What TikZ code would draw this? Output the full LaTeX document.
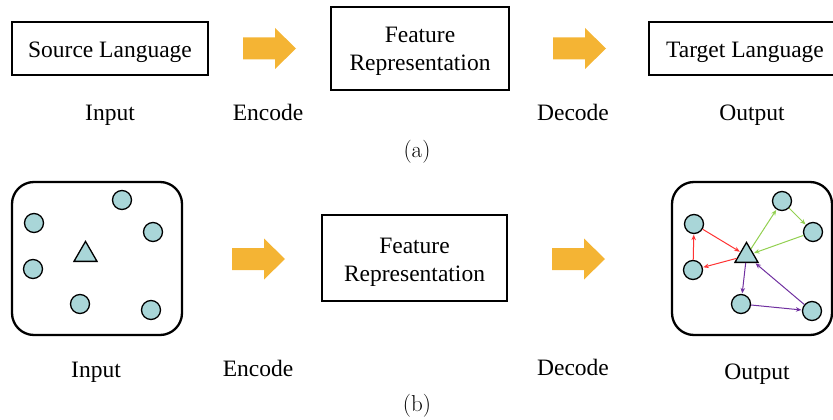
\documentclass[tikz,border=0pt]{standalone}
\usepackage{fontspec}
\newfontfamily\tnr{Liberation Serif}
\usetikzlibrary{shapes.geometric,arrows.meta}
\definecolor{fatorange}{HTML}{F4B434}
\definecolor{dotfill}{HTML}{A9D6D8}
\definecolor{edgered}{HTML}{FF3333}
\definecolor{edgegreen}{HTML}{92D050}
\definecolor{edgepurple}{HTML}{7030A0}
\tikzset{
	box/.style={draw, line width=1.2pt, inner sep=0pt},
	panel/.style={draw, line width=2.3pt, rounded corners=22pt, minimum width=#1, minimum height=153pt, inner sep=0pt},
	dot/.style={circle, draw, line width=1.3pt, fill=dotfill, minimum size=19pt, inner sep=0pt},
	tri/.style={regular polygon, regular polygon sides=3, draw, line width=1.3pt, fill=dotfill, minimum size=26.6pt, inner sep=0pt},
	link/.style={line width=1pt, -{Stealth[length=5.5pt,width=4.5pt]}, shorten >=0.5pt},
	word/.style={anchor=base, inner sep=0pt},
	caption/.style={anchor=base, inner sep=0pt, font=\normalfont\fontsize{23}{27}\selectfont}
}
\newcommand\fatarrow[1]{\fill[fatorange, shift={#1}] (0,-11) -- (32,-11) -- (32,-20.5) -- (53,0) -- (32,20.5) -- (32,11) -- (0,11) -- cycle;}
\begin{document}
\begin{tikzpicture}[x=1pt, y=-1pt, font=\tnr\fontsize{23.5}{27}\selectfont]
	\useasboundingbox (0,0) rectangle (833,420);
	\clip (0,0) rectangle (833,420);
	% (a)
	\node[box, minimum width=196pt, minimum height=53pt] (src) at (110,48.5) {};
	\node[word] (srct) at (110,58) {Source Language};
	\node[box, minimum width=178pt, minimum height=83pt] (feata) at (420,48.5) {};
	\node[word] (fa1) at (420,43) {Feature};
	\node[word] (fa2) at (420,70.5) {Representation};
	\node[box, minimum width=196pt, minimum height=53pt] (tgt) at (747,48.5) {};
	\node[word] (tgtt) at (745,58) {Target Language};
	\fatarrow{(243,48.5)}
	\fatarrow{(553,48.5)}
	\node[word] (ina) at (110,120) {Input};
	\node[word] (enca) at (268,120) {Encode};
	\node[word] (deca) at (573,120) {Decode};
	\node[word] (outa) at (752,121) {Output};
	\node[caption] (capa) at (417,157) {(a)};
	% (b)
	\node[panel=170pt] (left) at (97,258.5) {};
	\node[box, minimum width=185pt, minimum height=86pt] (featb) at (414.5,258) {};
	\node[word] (fb1) at (414.5,253) {Feature};
	\node[word] (fb2) at (414.5,281.5) {Representation};
	\node[panel=160pt] (right) at (752,258.5) {};
	\fatarrow{(232,259)}
	\fatarrow{(552,259)}
	\node[dot] (l1) at (122,200) {};
	\node[dot] (l2) at (34,223) {};
	\node[dot] (l3) at (153,232) {};
	\node[dot] (l4) at (33,269) {};
	\node[dot] (l5) at (80,304) {};
	\node[dot] (l6) at (151,310) {};
	\node[tri] (lt) at (85.5,254.7) {};
	\node[dot] (r1) at (694,224) {};
	\node[dot] (r2) at (782,201) {};
	\node[dot] (r3) at (813,232) {};
	\node[dot] (r4) at (693,270) {};
	\node[dot] (r5) at (741,304) {};
	\node[dot] (r6) at (812,311) {};
	\node[tri] (rt) at (746.5,255.7) {};
	\draw[link, edgered] (r1) -- (rt);
	\draw[link, edgered] (rt) -- (r4);
	\draw[link, edgered] (r4) -- (r1);
	\draw[link, edgegreen] (rt) -- (r2);
	\draw[link, edgegreen] (r2) -- (r3);
	\draw[link, edgegreen] (r3) -- (rt);
	\draw[link, edgepurple] (rt) -- (r5);
	\draw[link, edgepurple] (r5) -- (r6);
	\draw[link, edgepurple] (r6) -- (rt);
	\node[word] (inb) at (96,377) {Input};
	\node[word] (encb) at (258,376) {Encode};
	\node[word] (decb) at (573,375) {Decode};
	\node[word] (outb) at (757,379) {Output};
	\node[caption] (capb) at (417,411) {(b)};
\end{tikzpicture}
\end{document}
